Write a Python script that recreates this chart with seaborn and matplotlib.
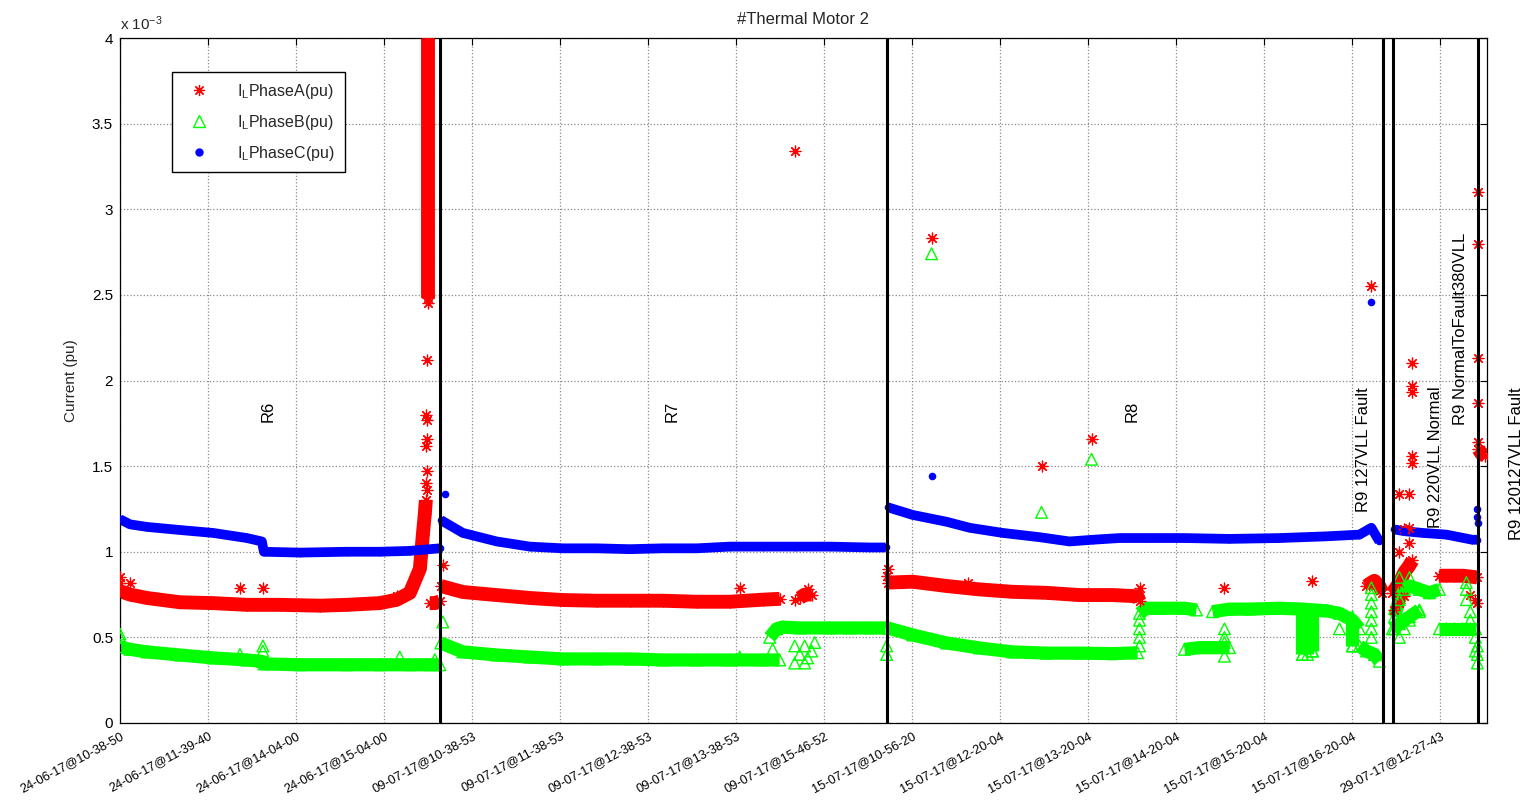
import numpy as np
import pandas as pd
import matplotlib
matplotlib.use("Agg")
import matplotlib.pyplot as plt
from matplotlib.lines import Line2D
import seaborn as sns

# ---------------- data (x = sample index, y = current in 1e-3 pu) ----------------
tick_positions = [0, 1000, 2000, 3000, 4000, 5000, 6000, 7000, 8000, 9000, 10000,
                  11000, 12000, 13000, 14000, 15000]
tick_labels = ["24-06-17@10-38-50", "24-06-17@11-39-40", "24-06-17@14-04-00",
               "24-06-17@15-04-00", "09-07-17@10-38-53", "09-07-17@11-38-53",
               "09-07-17@12-38-53", "09-07-17@13-38-53", "09-07-17@15-46-52",
               "15-07-17@10-56-20", "15-07-17@12-20-04", "15-07-17@13-20-04",
               "15-07-17@14-20-04", "15-07-17@15-20-04", "15-07-17@16-20-04",
               "29-07-17@12-27-43"]
y_ticks = [0, 0.5, 1, 1.5, 2, 2.5, 3, 3.5, 4]
y_tick_labels = ["0", "0.5", "1", "1.5", "2", "2.5", "3", "3.5", "4"]

region_bounds = [3640, 8715, 14353, 14466, 15431]
region_labels = ["R6", "R7", "R8", "R9 127VLL Fault", "R9 220VLL Normal",
                 "R9 NormalToFault380VLL", "R9 120127VLL Fault"]
region_label_x = [1680, 6270, 11500, 14130, 14940, 15230, 15870]
region_label_y = [1.76, 1.76, 1.76, 1.23, 1.14, 1.74, 1.07]

# Phase A (red) – dense bands
phaseA_band = [
    [(0, 0.77), (114, 0.75), (307, 0.73), (681, 0.705), (1056, 0.70), (1442, 0.69),
     (1817, 0.69), (2271, 0.685), (2578, 0.69), (2952, 0.70), (3145, 0.72), (3293, 0.76),
     (3407, 0.90), (3441, 1.10), (3463, 1.22), (3475, 1.30)],
    [(3497, 2.48), (3497, 2.70), (3497, 2.90), (3497, 3.10), (3497, 3.30), (3497, 3.50),
     (3497, 3.70), (3497, 3.90), (3497, 4.00)],
    [(3520, 0.70), (3577, 0.70), (3634, 0.71)],
    [(3645, 0.80), (3895, 0.765), (4281, 0.747), (4656, 0.73), (5030, 0.718), (5416, 0.714),
     (5791, 0.714), (6166, 0.714), (6552, 0.708), (6927, 0.708), (7301, 0.72), (7494, 0.725)],
    [(7722, 0.73), (7778, 0.75), (7858, 0.75)],
    [(8721, 0.82), (9005, 0.825), (9391, 0.80), (9765, 0.78), (10140, 0.766), (10526, 0.76),
     (10901, 0.747), (11276, 0.747), (11560, 0.74), (11582, 0.71)],
    [(14160, 0.80), (14216, 0.82), (14251, 0.83), (14307, 0.80), (14342, 0.76)],
    [(14455, 0.76), (14535, 0.82), (14591, 0.88), (14648, 0.92), (14682, 0.95)],
    [(14989, 0.86), (15068, 0.86), (15159, 0.86), (15250, 0.86), (15340, 0.855), (15420, 0.85)],
    [(15431, 1.60), (15470, 1.57), (15510, 1.56)],
]
phaseA_out = [(0, 0.85), (0, 0.82), (114, 0.82), (1363, 0.79), (1624, 0.79), (3145, 0.74),
              (3668, 0.92), (3497, 2.45), (3486, 2.12), (3475, 1.80), (3486, 1.77),
              (3486, 1.66), (3475, 1.62), (3486, 1.47), (3475, 1.40), (3486, 1.36),
              (7040, 0.79), (7665, 3.34), (7665, 0.72), (7812, 0.78), (8709, 0.86),
              (8721, 0.90), (9629, 0.82), (9220, 2.83), (10469, 1.50), (11037, 1.66),
              (11582, 0.79), (12547, 0.79), (13547, 0.83), (14216, 2.55), (14534, 1.34),
              (14648, 1.34), (14591, 1.13), (14648, 1.14), (14682, 1.56), (14682, 1.52),
              (14682, 1.93), (14682, 1.97), (14682, 2.10), (14534, 1.00), (14648, 1.05),
              (14478, 0.66), (14534, 0.70), (14591, 0.74),
              (15340, 0.75), (15397, 0.72), (15420, 0.70), (15431, 3.10), (15431, 2.80),
              (15431, 2.13), (15431, 1.87), (15431, 1.64)]

# Phase B (green)
phaseB_band = [
    [(0, 0.445), (114, 0.43), (307, 0.415), (681, 0.397), (1056, 0.38), (1442, 0.368),
     (1612, 0.36), (1635, 0.345), (2044, 0.34), (2578, 0.34), (2952, 0.34), (3293, 0.34),
     (3520, 0.34), (3634, 0.34)],
    [(3645, 0.467), (3895, 0.415), (4281, 0.397), (4656, 0.385), (5030, 0.374), (5416, 0.374),
     (5791, 0.374), (6166, 0.368), (6552, 0.368), (6927, 0.368), (7301, 0.368), (7494, 0.368)],
    [(7381, 0.50), (7460, 0.55), (7528, 0.56), (7722, 0.555), (8062, 0.555), (8289, 0.555),
     (8516, 0.555), (8698, 0.555)],
    [(8721, 0.555), (9005, 0.514), (9391, 0.467), (9765, 0.438), (10140, 0.415),
     (10526, 0.408), (10901, 0.408), (11276, 0.405), (11560, 0.41)],
    [(11582, 0.64), (11661, 0.67), (11809, 0.67), (12093, 0.67), (12229, 0.66)],
    [(12093, 0.43), (12263, 0.44), (12411, 0.44), (12604, 0.44)],
    [(12411, 0.65), (12604, 0.665), (12831, 0.665), (13172, 0.67), (13433, 0.665),
     (13706, 0.655), (13853, 0.64), (14001, 0.60), (14080, 0.55)],
    [(13433, 0.64), (13433, 0.40)],
    [(13490, 0.64), (13490, 0.40)],
    [(13547, 0.64), (13547, 0.42)],
    [(14001, 0.62), (14001, 0.45)],
    [(14080, 0.45), (14160, 0.42), (14251, 0.40), (14307, 0.36)],
    [(14478, 0.62), (14534, 0.72), (14591, 0.78), (14648, 0.80), (14762, 0.78),
     (14876, 0.76), (14989, 0.78)],
    [(14455, 0.55), (14534, 0.58), (14648, 0.62), (14762, 0.66)],
    [(14989, 0.55), (15068, 0.55), (15159, 0.55), (15250, 0.55), (15340, 0.55), (15400, 0.55)],
]
phaseB_out = [(0, 0.52), (0, 0.50), (1363, 0.40), (1624, 0.45), (1624, 0.42), (3179, 0.385),
              (3577, 0.37), (3668, 0.59), (7040, 0.385), (7415, 0.43), (7665, 0.35),
              (7665, 0.45), (7722, 0.40), (7778, 0.45), (7778, 0.35), (7812, 0.38),
              (7858, 0.42), (7892, 0.47), (8709, 0.40), (8709, 0.45), (9220, 2.74),
              (10469, 1.23), (11037, 1.54), (11582, 0.45), (11582, 0.50), (11582, 0.55),
              (11582, 0.60), (12547, 0.39), (12547, 0.47), (12547, 0.50), (12547, 0.55),
              (13433, 0.40), (13433, 0.45), (13490, 0.45), (13490, 0.50), (13490, 0.55),
              (13547, 0.42), (13547, 0.50), (13547, 0.60), (13853, 0.55), (14001, 0.50),
              (14001, 0.45), (14216, 0.50), (14216, 0.55), (14216, 0.60), (14216, 0.65),
              (14216, 0.70), (14216, 0.75), (14216, 0.79), (14478, 0.55), (14534, 0.50),
              (14591, 0.55), (14648, 0.60), (14762, 0.65), (14534, 0.85), (14648, 0.85),
              (15295, 0.82), (15295, 0.78), (15295, 0.72), (15340, 0.65), (15340, 0.60),
              (15397, 0.50), (15420, 0.45), (15420, 0.40), (15420, 0.35), (15397, 0.42)]

# Phase C (blue)
phaseC_band = [
    [(0, 1.19), (114, 1.16), (307, 1.145), (681, 1.127), (1056, 1.11), (1442, 1.08),
     (1612, 1.06), (1635, 1.0), (2044, 0.995), (2578, 1.0), (2952, 1.0), (3293, 1.005),
     (3520, 1.015), (3634, 1.02)],
    [(3645, 1.185), (3895, 1.11), (4281, 1.06), (4656, 1.03), (5030, 1.02), (5416, 1.02),
     (5791, 1.015), (6166, 1.02), (6552, 1.02), (6927, 1.03), (7301, 1.03), (7665, 1.03),
     (8062, 1.03), (8516, 1.025), (8698, 1.025)],
    [(8721, 1.26), (9005, 1.215), (9391, 1.175), (9652, 1.14), (10027, 1.11), (10447, 1.085),
     (10787, 1.06), (11049, 1.07), (11355, 1.08), (11661, 1.08), (12093, 1.08),
     (12604, 1.075), (13172, 1.08), (13706, 1.09), (14080, 1.10), (14216, 1.14),
     (14307, 1.06)],
    [(14478, 1.13), (14591, 1.12), (14796, 1.11), (15068, 1.10), (15363, 1.07), (15420, 1.07)],
]
phaseC_out = [(3690, 1.34), (9220, 1.44), (14216, 2.46), (15420, 1.20), (15420, 1.25),
              (15431, 1.17)]


def band_frame(segments):
    rows = []
    for i, seg in enumerate(segments):
        for x, y in seg:
            rows.append((i, x, y))
    return pd.DataFrame(rows, columns=["seg", "x", "y"])


def point_frame(points):
    return pd.DataFrame(points, columns=["x", "y"])


# ---------------- style ----------------
sns.set_theme(style="white")
plt.rcParams["font.family"] = ["Liberation Sans", "DejaVu Sans"]
plt.rcParams["mathtext.fontset"] = "custom"
plt.rcParams["mathtext.rm"] = "Liberation Sans"
plt.rcParams["mathtext.it"] = "Liberation Sans"

fig = plt.figure(figsize=(15.28, 8.07), dpi=100)
ax = fig.add_axes([0.0785, 0.1041, 0.8947, 0.8488])

RED, GREEN, BLUE = "#ff0000", "#00ff00", "#0000ff"
ASTER = (8, 2, 0)

series = [
    (phaseA_band, phaseA_out, RED, ASTER, 60, 10.0),
    (phaseB_band, phaseB_out, GREEN, "^", 70, 9.5),
    (phaseC_band, phaseC_out, BLUE, "o", 30, 7.0),
]

for band, out, col, mk, size, lw in series:
    bdf = band_frame(band)
    sns.lineplot(data=bdf, x="x", y="y", units="seg", estimator=None, sort=False,
                 color=col, linewidth=lw, ax=ax, legend=False, zorder=2,
                 solid_capstyle="butt")
    pts = pd.concat([bdf[["x", "y"]], point_frame(out)], ignore_index=True)
    if mk == "^":
        sns.scatterplot(data=pts, x="x", y="y", marker="^", color=col, s=size,
                        linewidth=1.0, ax=ax, legend=False, zorder=3)
        coll = ax.collections[-1]
        coll.set_facecolor("none")
        coll.set_edgecolor(col)
    elif mk == "o":
        sns.scatterplot(data=pts, x="x", y="y", marker="o", color=col, s=size,
                        linewidth=0, ax=ax, legend=False, zorder=3)
    else:
        sns.scatterplot(data=pts, x="x", y="y", marker=mk, color=col, s=size,
                        linewidth=0.9, ax=ax, legend=False, zorder=3)

for xb in region_bounds:
    ax.axvline(xb, color="black", linewidth=2.2, zorder=4)

for lab, lx, ly in zip(region_labels, region_label_x, region_label_y):
    ax.text(lx, ly, lab, rotation=90, ha="center", va="bottom", fontsize=12,
            color="black", clip_on=False, zorder=5)

ax.set_xlim(0, 15530)
ax.set_ylim(0, 4)
ax.set_xticks(tick_positions)
ax.set_xticklabels(tick_labels, rotation=28, ha="right", rotation_mode="anchor",
                   fontsize=9.2)
ax.set_yticks(y_ticks)
ax.set_yticklabels(y_tick_labels, fontsize=11)
ax.tick_params(direction="in", length=5, width=0.8, top=True, right=True,
               labeltop=False, labelright=False, pad=5, colors="black")
ax.grid(True, linestyle=":", color="#8a8a8a", linewidth=0.9)
ax.set_axisbelow(True)
for sp in ax.spines.values():
    sp.set_color("black")
    sp.set_linewidth(0.9)

ax.set_xlabel("")
ax.set_ylabel("Current (pu)", fontsize=11, labelpad=10)
ax.set_title("#Thermal Motor 2", fontsize=12, pad=10)
ax.text(0.0, 1.008, r"x 10$^{-3}$", transform=ax.transAxes, ha="left", va="bottom",
        fontsize=11)

handles = [
    Line2D([], [], linestyle="none", marker=ASTER, color=RED, markersize=8, markeredgewidth=0.9),
    Line2D([], [], linestyle="none", marker="^", markerfacecolor="none",
           markeredgecolor=GREEN, markersize=9, markeredgewidth=1.0),
    Line2D([], [], linestyle="none", marker="o", color=BLUE, markersize=5),
]
labels = [r"I$_{\mathrm{L}}$PhaseA(pu)", r"I$_{\mathrm{L}}$PhaseB(pu)",
          r"I$_{\mathrm{L}}$PhaseC(pu)"]
leg = ax.legend(handles, labels, loc="upper left", bbox_to_anchor=(0.038, 0.950),
                borderaxespad=0, frameon=True, fancybox=False, framealpha=1,
                edgecolor="black", fontsize=11.5, handletextpad=1.3, borderpad=0.6,
                labelspacing=0.75, handlelength=2.2)
leg.get_frame().set_linewidth(1.0)
leg.set_zorder(10)

fig.savefig("out.png", dpi=100)
